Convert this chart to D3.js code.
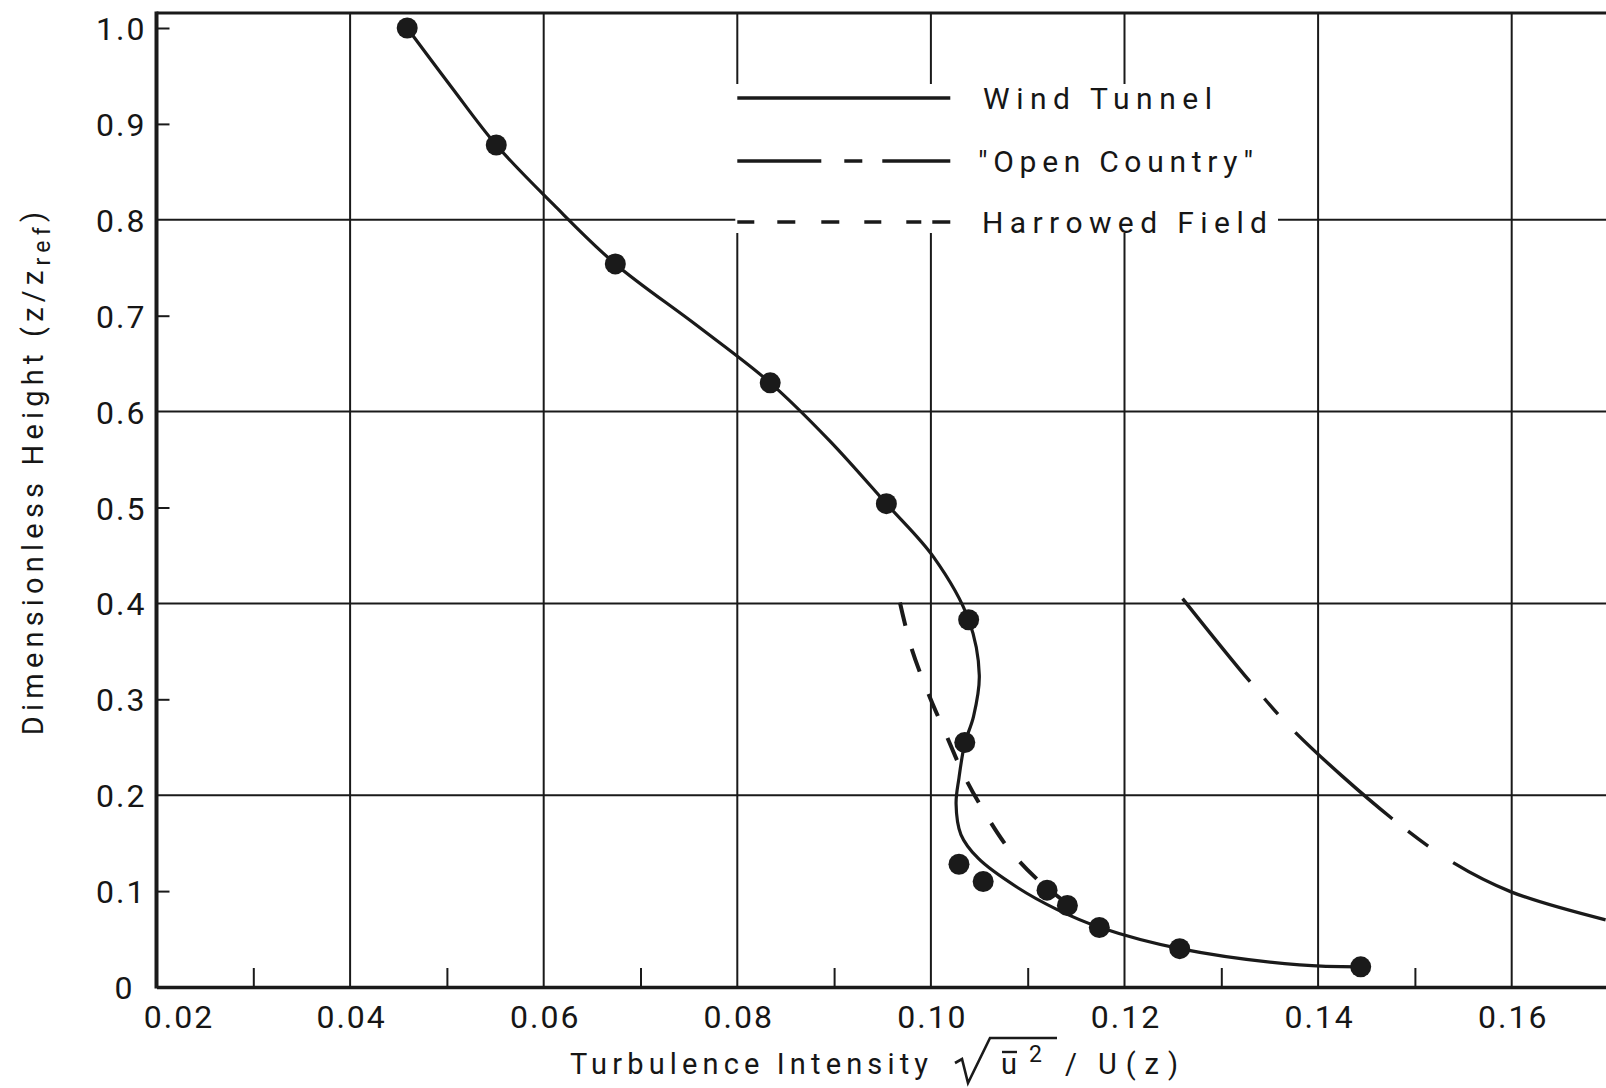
<!DOCTYPE html>
<html>
<head>
<meta charset="utf-8">
<script src="https://cdn.jsdelivr.net/npm/d3@7"></script>
<style>
body { margin: 0; background: #fff; }
svg { display: block; background: #fff; }
.lbl { font-family: Roboto, "Liberation Sans", sans-serif; font-weight: 400; fill: #161616; }
</style>
</head>
<body>
<svg id="chart" width="1606" height="1088"></svg>
<script>
// ticks and grid
const xTicks = [0.02, 0.04, 0.06, 0.08, 0.10, 0.12, 0.14, 0.16];
const xGrid = [0.04, 0.06, 0.08, 0.10, 0.12, 0.14, 0.16];
const xMinor = [0.03, 0.05, 0.07, 0.09, 0.11, 0.13, 0.15];
const yTicks = [0, 0.1, 0.2, 0.3, 0.4, 0.5, 0.6, 0.7, 0.8, 0.9, 1.0];
const yGrid = [0.2, 0.4, 0.6, 0.8];
const yMinor = [0.1, 0.3, 0.5, 0.7, 0.9, 1.0];

// wind tunnel measurements [intensity, z/zref]
const tunnelPoints = [
  [0.0459, 1.000], [0.0551, 0.878], [0.0674, 0.754], [0.0834, 0.630],
  [0.0954, 0.504], [0.1039, 0.383], [0.1035, 0.255], [0.1029, 0.128],
  [0.1054, 0.110], [0.1120, 0.101], [0.1141, 0.085], [0.1174, 0.062],
  [0.1257, 0.040], [0.1444, 0.021]
];

// faired wind tunnel curve
const tunnelCurve = [
  [0.0459, 1.000], [0.0505, 0.938], [0.0551, 0.878], [0.0610, 0.816],
  [0.0674, 0.754], [0.0758, 0.690], [0.0834, 0.630], [0.0895, 0.570],
  [0.0954, 0.504], [0.1003, 0.448], [0.1039, 0.383], [0.1050, 0.325],
  [0.1044, 0.282], [0.1035, 0.254], [0.1029, 0.218], [0.1026, 0.191],
  [0.1031, 0.159], [0.1049, 0.134], [0.1089, 0.104], [0.1130, 0.081],
  [0.1175, 0.062], [0.1257, 0.040], [0.1381, 0.023], [0.1444, 0.021]
];

// "Open Country"
const openCountry = [
  [0.1260, 0.405], [0.1330, 0.318], [0.1376, 0.266], [0.1476, 0.176],
  [0.1539, 0.130], [0.1600, 0.099], [0.1697, 0.070]
];

// Harrowed Field
const harrowed = [
  [0.0968, 0.401], [0.0980, 0.353], [0.0997, 0.307], [0.1017, 0.260],
  [0.1034, 0.221], [0.1052, 0.188], [0.1079, 0.146], [0.1108, 0.114],
  [0.1139, 0.088], [0.1164, 0.067]
];

const legendLabels = ['Wind Tunnel', '"Open Country"', 'Harrowed Field'];

const W = 1606, H = 1088;
const ink = '#1a1a1a';
const svg = d3.select('#chart');

const x = d3.scaleLinear().domain([0.02, 0.17]).range([156.5, 1608.5]);
const y = d3.scaleLinear().domain([0, 1]).range([987, 28]);
const topY = 13;

svg.append('defs').append('clipPath').attr('id', 'plot')
  .append('rect')
  .attr('x', x(0.02)).attr('y', topY)
  .attr('width', W - x(0.02)).attr('height', y(0) - topY);

// grid
svg.append('g').selectAll('line').data(xGrid).enter().append('line')
  .attr('x1', d => x(d)).attr('x2', d => x(d))
  .attr('y1', topY).attr('y2', y(0))
  .attr('stroke', ink).attr('stroke-width', 2);

svg.append('g').selectAll('line').data(yGrid).enter().append('line')
  .attr('x1', x(0.02)).attr('x2', W)
  .attr('y1', d => y(d)).attr('y2', d => y(d))
  .attr('stroke', ink).attr('stroke-width', 2);

// top border
svg.append('line')
  .attr('x1', x(0.02)).attr('x2', W)
  .attr('y1', topY).attr('y2', topY)
  .attr('stroke', ink).attr('stroke-width', 3);

// minor ticks
svg.append('g').attr('transform', `translate(0,${y(0)})`)
  .call(d3.axisBottom(x).tickValues(xMinor).tickSize(-19).tickFormat(''))
  .call(g => g.select('.domain').remove())
  .selectAll('line').attr('stroke', ink).attr('stroke-width', 2);

svg.append('g').attr('transform', `translate(${x(0.02)},0)`)
  .call(d3.axisRight(y).tickValues(yMinor).tickSize(13).tickFormat(''))
  .call(g => g.select('.domain').remove())
  .selectAll('line').attr('stroke', ink).attr('stroke-width', 2);

// axes
const xAxis = svg.append('g').attr('transform', `translate(0,${y(0)})`)
  .call(d3.axisBottom(x).tickValues(xTicks).tickSize(0).tickFormat(d3.format('.2f')));
xAxis.select('.domain').attr('stroke', ink).attr('stroke-width', 3.5);
xAxis.selectAll('text')
  .attr('class', 'lbl')
  .attr('dy', null).attr('y', 41)
  .attr('dx', d => d === 0.02 ? 22 : 1)
  .attr('font-size', 32).attr('letter-spacing', 2);

const yAxis = svg.append('g').attr('transform', `translate(${x(0.02)},0)`)
  .call(d3.axisLeft(y).tickValues(yTicks).tickSize(0)
    .tickFormat(d => d === 0 ? '0' : d3.format('.1f')(d)));
yAxis.select('.domain').attr('d', `M0,${topY - 1.5}V${y(0) + 1.5}`)
  .attr('stroke', ink).attr('stroke-width', 4);
yAxis.selectAll('text')
  .attr('class', 'lbl')
  .attr('x', d => d === 0 ? -22 : -10).attr('dy', '0.36em')
  .attr('font-size', 32).attr('letter-spacing', 2);

// legend
const lx = x(0.08);
svg.append('rect')
  .attr('x', lx - 2).attr('y', 84)
  .attr('width', 1280 - lx).attr('height', 149)
  .attr('fill', '#fff');

const legendY = [98, 161, 222];
const legendDash = [null, '84,23,18,20,300', '17,23,18,26,18,25,17,25,15,11,18'];
const legendTextX = [983, 978, 982];
const legendTextW = [229, 275, 285];

const legend = svg.append('g');
legend.selectAll('line').data(legendLabels).enter().append('line')
  .attr('x1', lx).attr('x2', lx + 213)
  .attr('y1', (d, i) => legendY[i]).attr('y2', (d, i) => legendY[i])
  .attr('stroke', ink).attr('stroke-width', 3.5)
  .attr('stroke-dasharray', (d, i) => legendDash[i]);
legend.selectAll('text').data(legendLabels).enter().append('text')
  .attr('class', 'lbl')
  .attr('x', (d, i) => legendTextX[i])
  .attr('y', (d, i) => legendY[i] + 11)
  .attr('font-size', 30)
  .attr('textLength', (d, i) => legendTextW[i])
  .attr('lengthAdjust', 'spacing')
  .text(d => d);

// curves
const plot = svg.append('g').attr('clip-path', 'url(#plot)');
const line = d3.line().x(d => x(d[0])).y(d => y(d[1])).curve(d3.curveCatmullRom.alpha(0.5));

plot.append('path').datum(tunnelCurve)
  .attr('d', line).attr('fill', 'none')
  .attr('stroke', ink).attr('stroke-width', 3.2);

plot.append('path').datum(openCountry)
  .attr('d', line).attr('fill', 'none')
  .attr('stroke', ink).attr('stroke-width', 3.4)
  .attr('stroke-dasharray', '107,22,21,25,130,20,25,30,600');

plot.append('path').datum(harrowed)
  .attr('d', line).attr('fill', 'none')
  .attr('stroke', ink).attr('stroke-width', 4)
  .attr('stroke-dasharray', '24,24');

plot.selectAll('circle').data(tunnelPoints).enter().append('circle')
  .attr('cx', d => x(d[0])).attr('cy', d => y(d[1]))
  .attr('r', 10.5).attr('fill', ink);

// axis titles
const xt = svg.append('g');
xt.append('text').attr('class', 'lbl')
  .attr('x', 570).attr('y', 1074).attr('font-size', 29)
  .attr('textLength', 358).attr('lengthAdjust', 'spacing')
  .text('Turbulence Intensity');
xt.append('path')
  .attr('d', 'M955,1063L962,1059L968,1083L990,1038L1057,1038')
  .attr('fill', 'none').attr('stroke', ink).attr('stroke-width', 2.6);
xt.append('text').attr('class', 'lbl')
  .attr('x', 1001).attr('y', 1074).attr('font-size', 29).text('u');
xt.append('path').attr('d', 'M1002,1052H1017')
  .attr('stroke', ink).attr('stroke-width', 2.4);
xt.append('text').attr('class', 'lbl')
  .attr('x', 1029).attr('y', 1062).attr('font-size', 23).text('2');
xt.append('text').attr('class', 'lbl')
  .attr('x', 1065).attr('y', 1074).attr('font-size', 29).text('/');
xt.append('text').attr('class', 'lbl')
  .attr('x', 1098).attr('y', 1074).attr('font-size', 29)
  .attr('textLength', 80).attr('lengthAdjust', 'spacing')
  .text('U(z)');

const yt = svg.append('text').attr('class', 'lbl')
  .attr('transform', 'translate(43,471) rotate(-90)')
  .attr('text-anchor', 'middle')
  .attr('font-size', 29).attr('letter-spacing', 5.2);
yt.append('tspan').text('Dimensionless Height (z/z');
yt.append('tspan').attr('dy', 7).attr('font-size', 23).text('ref');
yt.append('tspan').attr('dy', -7).text(')');
</script>
</body>
</html>
